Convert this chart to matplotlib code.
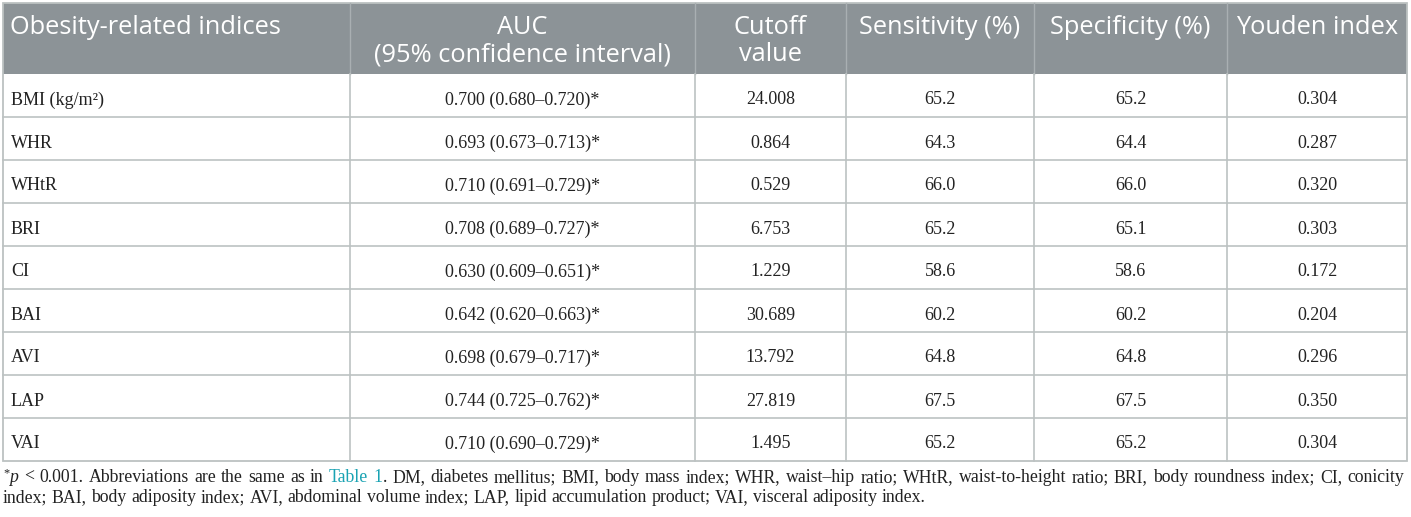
import matplotlib
matplotlib.use("Agg")
import matplotlib.pyplot as plt
from matplotlib.patches import Rectangle

# table content
headers = [["Obesity-related indices"],
           ["AUC", "(95% confidence interval)"],
           ["Cutoff", "value"],
           ["Sensitivity (%)"],
           ["Specificity (%)"],
           ["Youden index"]]
indices = ["BMI (kg/m²)", "WHR", "WHtR", "BRI", "CI", "BAI", "AVI", "LAP", "VAI"]
auc = [0.700, 0.693, 0.710, 0.708, 0.630, 0.642, 0.698, 0.744, 0.710]
auc_lo = [0.680, 0.673, 0.691, 0.689, 0.609, 0.620, 0.679, 0.725, 0.690]
auc_hi = [0.720, 0.713, 0.729, 0.727, 0.651, 0.663, 0.717, 0.762, 0.729]
cutoff = [24.008, 0.864, 0.529, 6.753, 1.229, 30.689, 13.792, 27.819, 1.495]
sensitivity = [65.2, 64.3, 66.0, 65.2, 58.6, 60.2, 64.8, 67.5, 65.2]
specificity = [65.2, 64.4, 66.0, 65.1, 58.6, 60.2, 64.8, 67.5, 65.2]
youden = [0.304, 0.287, 0.320, 0.303, 0.172, 0.204, 0.296, 0.350, 0.304]

note_line1 = [("*", "sup"), ("p", "it"), (" < 0.001. Abbreviations are the same as in ", "rm"),
              ("Table 1", "link"),
              (". DM, diabetes mellitus; BMI, body mass index; WHR, waist–hip ratio; WHtR, "
               "waist-to-height ratio; BRI, body roundness index; CI, conicity", "rm")]
note_line2 = [("index; BAI, body adiposity index; AVI, abdominal volume index; LAP, lipid "
               "accumulation product; VAI, visceral adiposity index.", "rm")]

W, H = 1411, 517
col_edges = [3, 350, 695, 846, 1034, 1227, 1407]
top, head_bot, bottom = 3, 74, 461
row_h = (bottom - head_bot) / len(indices)

head_color = "#8c9397"
line_color = "#bcc2c2"
head_font = "Open Sans"
body_font = "Liberation Serif"
body_size = 13
head_size = 18.3

fig = plt.figure(figsize=(W / 100, H / 100), dpi=100)
ax = fig.add_axes([0, 0, 1, 1])
ax.set_xlim(0, W)
ax.set_ylim(H, 0)
ax.axis("off")

# header band
ax.add_patch(Rectangle((col_edges[0], top), col_edges[-1] - col_edges[0], head_bot - top,
                       facecolor=head_color, edgecolor="none"))
for x in col_edges[1:-1]:
    ax.plot([x, x], [top, head_bot], color="#a9afb2", lw=1)
    ax.plot([x, x], [head_bot, bottom], color=line_color, lw=1.2)
for i in range(1, len(indices)):
    y = head_bot + i * row_h
    ax.plot([col_edges[0], col_edges[-1]], [y, y], color=line_color, lw=1.2)
ax.add_patch(Rectangle((col_edges[0], top), col_edges[-1] - col_edges[0], bottom - top,
                       facecolor="none", edgecolor=line_color, lw=1.3))

# header text
for j, lines in enumerate(headers):
    for k, txt in enumerate(lines):
        if j == 0:
            x, ha = col_edges[0] + 7, "left"
        else:
            x, ha = (col_edges[j] + col_edges[j + 1]) / 2, "center"
        ax.text(x, 34 + k * 27, txt, ha=ha, va="baseline", color="white",
                fontsize=head_size, family=head_font)

# body rows
for i in range(len(indices)):
    yc = head_bot + (i + 0.5) * row_h
    cells = [indices[i],
             f"{auc[i]:.3f} ({auc_lo[i]:.3f}–{auc_hi[i]:.3f})*",
             f"{cutoff[i]:.3f}",
             f"{sensitivity[i]:.1f}",
             f"{specificity[i]:.1f}",
             f"{youden[i]:.3f}"]
    for j, txt in enumerate(cells):
        if j == 0:
            x, ha = col_edges[0] + 8, "left"
        else:
            x, ha = (col_edges[j] + col_edges[j + 1]) / 2, "center"
        ax.text(x, yc + 9, txt, ha=ha, va="baseline", color="#222222",
                fontsize=body_size, family=body_font)

# footnote, drawn word by word (first line justified)
renderer = fig.canvas.get_renderer()
note_size = 12.75
styles = {"rm": dict(family=body_font, fontsize=note_size, color="#222222"),
          "it": dict(family=body_font, fontsize=note_size, color="#222222", style="italic"),
          "link": dict(family=body_font, fontsize=note_size, color="#1aa3b3"),
          "sup": dict(family=body_font, fontsize=note_size * 0.7, color="#222222")}
probe = ax.text(0, 0, "a a", **styles["rm"])
w1 = probe.get_window_extent(renderer).width
probe.set_text("aa")
space_w = w1 - probe.get_window_extent(renderer).width
probe.remove()


def split_words(runs):
    words = [[]]
    for txt, st in runs:
        parts = txt.split(" ")
        for n, part in enumerate(parts):
            if n > 0 and words[-1]:
                words.append([])
            if part:
                words[-1].append((part, st))
    return [w for w in words if w]


def draw_line(runs, x0, y, x_end=None):
    words = split_words(runs)
    artists = []
    for word in words:
        segs = []
        for txt, st in word:
            dy = -6 if st == "sup" else 0
            t = ax.text(0, y + dy, txt, ha="left", va="baseline", **styles[st])
            w = t.get_window_extent(renderer).width + (1 if st == "it" else 0)
            segs.append((t, w))
        artists.append(segs)
    total = sum(w for segs in artists for _, w in segs)
    gap = space_w
    if x_end is not None and len(artists) > 1:
        gap = max((x_end - x0 - total) / (len(artists) - 1), space_w * 0.8)
    x = x0
    for segs in artists:
        for t, w in segs:
            t.set_x(x)
            x += w
        x += gap


draw_line(note_line1, 3, 482, x_end=1404)
draw_line(note_line2, 3, 502)

fig.savefig("out.png", dpi=100)
